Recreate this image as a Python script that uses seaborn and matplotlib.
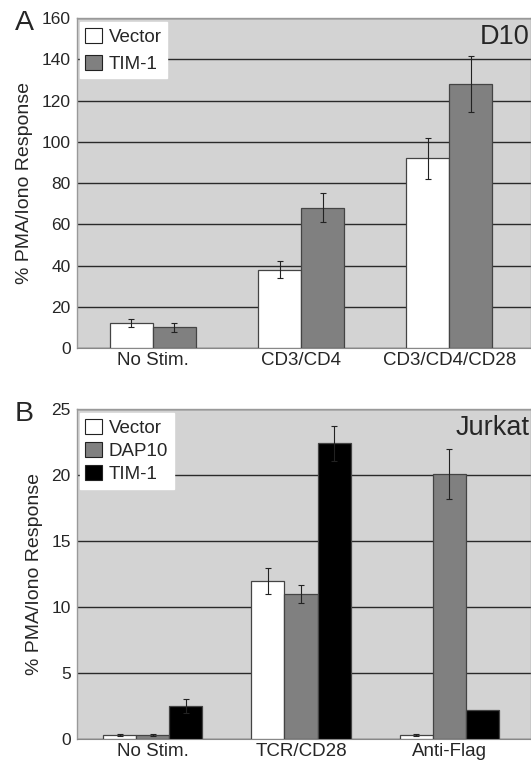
import pandas as pd
import numpy as np
import matplotlib.pyplot as plt
import seaborn as sns

sns.set_style('white')
plt.rcParams['font.family'] = ['Liberation Sans', 'DejaVu Sans']

# Panel A data (D10)
a_groups = ['No Stim.', 'CD3/CD4', 'CD3/CD4/CD28']
a_series = ['Vector', 'TIM-1']
a_vector = [12, 38, 92]
a_vector_err = [2, 4, 10]
a_tim1 = [10, 68, 128]
a_tim1_err = [2, 7, 13.5]

# Panel B data (Jurkat)
b_groups = ['No Stim.', 'TCR/CD28', 'Anti-Flag']
b_series = ['Vector', 'DAP10', 'TIM-1']
b_vector = [0.3, 12, 0.3]
b_vector_err = [0.1, 1.0, 0.05]
b_dap10 = [0.3, 11, 20.1]
b_dap10_err = [0.05, 0.7, 1.9]
b_tim1 = [2.5, 22.4, 2.2]
b_tim1_err = [0.55, 1.3, 0]

bg = '#d3d3d3'


def make_df(groups, series, values, errs):
    rows = []
    for s, vals, es in zip(series, values, errs):
        for g, v, e in zip(groups, vals, es):
            rows.append({'group': g, 'series': s, 'value': v, 'err': e})
    return pd.DataFrame(rows)


def draw_panel(ax, df, series, colors, width, ymax, step, tag, letter, lspace):
    ax.set_facecolor(bg)
    sns.barplot(data=df, x='group', y='value', hue='series', hue_order=series,
                palette=colors, width=width, errorbar=None, ax=ax,
                edgecolor='#444444', linewidth=0.9, zorder=3)
    # error bars from the bar positions
    bars = [p for p in ax.patches if p.get_height() > 0][:len(df)]
    for p, (_, row) in zip(bars, df.iterrows()):
        if row['err'] > 0:
            ax.errorbar(p.get_x() + p.get_width() / 2, row['value'], yerr=row['err'],
                        color='#222222', capsize=2.5, elinewidth=0.8, capthick=0.8,
                        zorder=4)
    ax.set_ylim(0, ymax)
    ax.set_xlim(-0.51, 2.55)
    ax.set_yticks(np.arange(0, ymax + 1, step))
    ax.yaxis.grid(True, color='#2a2a2a', linewidth=1.0)
    ax.set_axisbelow(True)
    ax.tick_params(axis='y', length=3, color='#888888', labelsize=12.5, pad=1.5)
    ax.tick_params(axis='x', length=0, labelsize=13.5, pad=3)
    ax.set_xlabel('')
    ax.set_ylabel('% PMA/Iono Response', fontsize=14, labelpad=6)
    for side in ['top', 'left', 'right']:
        ax.spines[side].set_color('#999999')
        ax.spines[side].set_linewidth(1)
    ax.spines['bottom'].set_color('#888888')
    ax.text(0.996, 0.982, tag, transform=ax.transAxes, ha='right', va='top',
            fontsize=19.5)
    ax.text(-0.137, 0.985, letter, transform=ax.transAxes, ha='left', va='center',
            fontsize=20.5)
    leg = ax.legend(loc='upper left', bbox_to_anchor=(0.006, 0.988), fontsize=13.5,
                    handlelength=0.9, handleheight=0.9, handletextpad=0.35,
                    labelspacing=lspace, borderpad=0.3, borderaxespad=0.0,
                    frameon=True, fancybox=False, framealpha=1)
    leg.get_frame().set_edgecolor('white')
    for h in leg.legend_handles:
        h.set_edgecolor('#222222')
        h.set_linewidth(0.8)


fig = plt.figure(figsize=(5.31, 7.6), dpi=100)
ax_a = fig.add_axes([0.145, 0.542, 0.855, 0.434])
ax_b = fig.add_axes([0.145, 0.0276, 0.855, 0.434])

df_a = make_df(a_groups, a_series, [a_vector, a_tim1], [a_vector_err, a_tim1_err])
df_b = make_df(b_groups, b_series, [b_vector, b_dap10, b_tim1],
               [b_vector_err, b_dap10_err, b_tim1_err])

draw_panel(ax_a, df_a, a_series, ['white', '#808080'], 0.58, 160, 20, 'D10', 'A', 0.45)
draw_panel(ax_b, df_b, b_series, ['white', '#808080', 'black'], 0.67, 25, 5, 'Jurkat', 'B', 0.25)

fig.savefig('out.png', dpi=100)
